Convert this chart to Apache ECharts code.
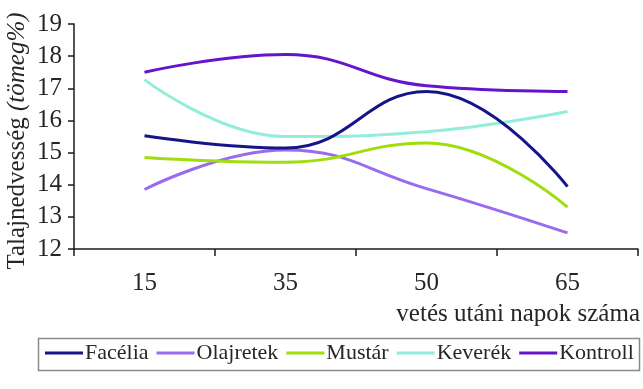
<!DOCTYPE html>
<html>
<head>
<meta charset="utf-8">
<script src="https://cdn.jsdelivr.net/npm/echarts@6/dist/echarts.min.js"></script>
<style>
  html, body { margin: 0; padding: 0; background: #fff; }
  #chart { width: 643px; height: 389px; }
</style>
</head>
<body>
<div id="chart"></div>
<script>
// Days after sowing
const days = ['15', '35', '50', '65'];

// Soil moisture (mass %) per treatment
const facelia   = [15.52, 15.14, 16.9, 13.94];
const olajretek = [13.85, 15.08, 13.88, 12.5];
const mustar    = [14.85, 14.7, 15.3, 13.3];
const keverek   = [17.27, 15.5, 15.65, 16.28];
const kontroll  = [17.5, 18.05, 17.08, 16.9];

const seriesNames = ['Facélia', 'Olajretek', 'Mustár', 'Keverék', 'Kontroll'];
const seriesData = [facelia, olajretek, mustar, keverek, kontroll];
const seriesColors = ['#15158a', '#9a6bee', '#9fdd0c', '#92eedb', '#6614cc'];

const yTicks = { min: 12, max: 19, step: 1 };

const FONT = '"Liberation Serif", "DejaVu Serif", serif';
const TEXT = '#262626';

const chart = echarts.init(document.getElementById('chart'), null, { renderer: 'canvas' });

chart.setOption({
  animation: false,
  backgroundColor: '#ffffff',
  grid: { left: 74, right: 5, top: 24, bottom: 140, containLabel: false },
  xAxis: {
    type: 'category',
    data: days,
    boundaryGap: true,
    axisLine: { show: true, lineStyle: { color: '#1a1a1a', width: 1.5 } },
    axisTick: { show: true, length: 7, inside: false, lineStyle: { color: '#1a1a1a', width: 1.5 } },
    axisLabel: { fontFamily: FONT, fontSize: 25, color: TEXT, margin: 22 },
    splitLine: { show: false }
  },
  yAxis: {
    type: 'value',
    min: yTicks.min,
    max: yTicks.max,
    interval: yTicks.step,
    axisLine: { show: true, lineStyle: { color: '#1a1a1a', width: 1.5 } },
    axisTick: { show: true, length: 6, inside: false, lineStyle: { color: '#1a1a1a', width: 1.5 } },
    axisLabel: { fontFamily: FONT, fontSize: 25, color: TEXT, margin: 12 },
    splitLine: { show: false }
  },
  legend: {
    left: 45,
    top: 342,
    width: 600,
    padding: 0,
    icon: 'rect',
    itemWidth: 38,
    itemHeight: 3,
    itemGap: 8,
    textStyle: { fontFamily: FONT, fontSize: 22, color: TEXT, padding: [0, 0, 0, -3] },
    data: seriesNames
  },
  series: seriesNames.map((name, i) => ({
    name: name,
    type: 'line',
    data: seriesData[i],
    smooth: 0.45,
    symbol: 'none',
    lineStyle: { color: seriesColors[i], width: 3 },
    itemStyle: { color: seriesColors[i] },
    z: i === 0 ? 5 : 3
  })),
  graphic: [
    {
      type: 'rect',
      shape: { x: 38.5, y: 338.5, width: 601, height: 32 },
      style: { fill: 'none', stroke: '#8a8a8a', lineWidth: 1.5 },
      z: -1
    },
    {
      type: 'text',
      x: 640,
      y: 314,
      style: {
        text: 'vetés utáni napok száma',
        font: '25px ' + FONT,
        fill: TEXT,
        align: 'right',
        verticalAlign: 'middle'
      }
    },
    {
      type: 'text',
      x: 17,
      y: 141,
      rotation: Math.PI / 2,
      style: {
        text: '{n|Talajnedvesség }{i|(tömeg%)}',
        align: 'center',
        verticalAlign: 'middle',
        rich: {
          n: { font: '25px ' + FONT, fill: TEXT },
          i: { font: 'italic 25px ' + FONT, fill: TEXT }
        }
      }
    }
  ]
});
</script>
</body>
</html>
